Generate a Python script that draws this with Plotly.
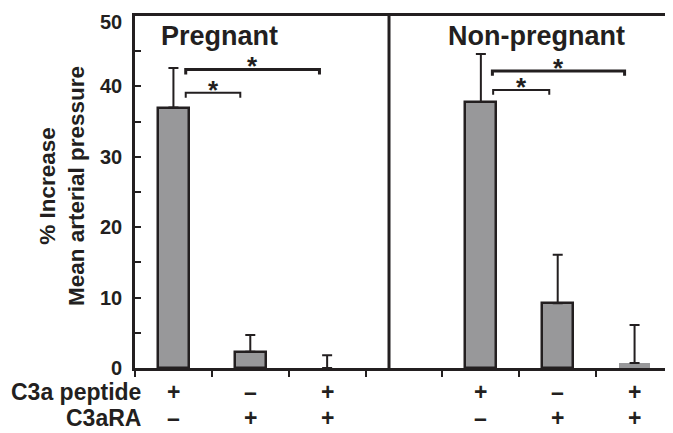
import plotly.graph_objects as go

# ---- data ----
categories = [0, 1, 2, 4, 5, 6]          # category slots (slot 3 is the gap)
values = [37.0, 2.3, 0.0, 37.8, 9.2, 0.7]
errors = [5.6, 2.4, 1.8, 6.8, 6.9, 5.4]
peptide_labels = ["+", "–", "+", "+", "–", "+"]
c3ara_labels = ["–", "+", "+", "–", "+", "+"]
group_titles = ["Pregnant", "Non-pregnant"]
y_ticks = [0, 10, 20, 30, 40, 50]
row_names = ["C3a peptide", "C3aRA"]
# significance brackets: (x_start, x_end, y)
brackets = [(0.16, 1.9, 42.4), (0.16, 0.87, 39.1), (4.15, 5.87, 42.2), (4.16, 4.89, 39.5)]

# ---- style ----
dark = "#231f20"
fill = "#98989a"
font_family = "Arial, Liberation Sans, sans-serif"
divider_x = 2.805
# page body has an 8px default margin; size the figure so the plot lands where it should
PAGE_OFF = 8
W, H = 673 - PAGE_OFF, 433 - PAGE_OFF
PL, PT, PR, PB = 135, 16, 673, 368   # plot area in window pixels
Y_MAX = 50


def px_to_paper(X, Y):
    return (X - PL) / (PR - PL), (PB - Y) / (PB - PT)


fig = go.Figure()
fig.add_trace(go.Bar(
    x=categories, y=values, width=0.4,
    marker=dict(color=fill, line=dict(color=dark, width=[2.5, 2.5, 0, 2.5, 2.5, 0])),
    error_y=dict(type="data", array=errors, arrayminus=[0] * len(errors), symmetric=False,
                 color=dark, thickness=2, width=5),
    showlegend=False,
))

# divider
fig.add_shape(type="line", xref="x", yref="paper", x0=divider_x, x1=divider_x, y0=0, y1=1,
              line=dict(color=dark, width=3))

# brackets
for i, (x0, x1, y) in enumerate(brackets):
    w = 3 if i % 2 == 0 else 2
    fig.add_shape(type="path", xref="x", yref="y",
                  path=f"M {x0},{y-0.7} L {x0},{y} L {x1},{y} L {x1},{y-0.7}",
                  line=dict(color=dark, width=w))
    fig.add_annotation(x=(x0 + x1) / 2, y=y + 0.45, text="<b>*</b>", showarrow=False,
                       yanchor="middle", font=dict(size=26, color=dark, family=font_family))

# group titles
for x, t in zip([0.6, 4.73], group_titles):
    fig.add_annotation(x=x, y=47.1, text=f"<b>{t}</b>", showarrow=False,
                       font=dict(size=27, color=dark, family=font_family))

# y tick labels (as text next to the axis; the top one kept inside the page)
for v in y_ticks:
    Y = PB - v / Y_MAX * (PB - PT)
    xp, yp = px_to_paper(124, max(Y, 22))
    fig.add_annotation(xref="paper", yref="paper", x=xp, y=yp, text=f"<b>{v}</b>",
                       showarrow=False, xanchor="right", yanchor="middle",
                       font=dict(size=20, color=dark, family=font_family))

# row labels
for Y, name, labs in [(392, row_names[0], peptide_labels), (418, row_names[1], c3ara_labels)]:
    xp, yp = px_to_paper(143, Y)
    fig.add_annotation(xref="paper", yref="paper", x=xp, y=yp, text=f"<b>{name}</b>",
                       showarrow=False, xanchor="right", yanchor="middle",
                       font=dict(size=23, color=dark, family=font_family))
    for c, l in zip(categories, labs):
        fig.add_annotation(xref="x", yref="paper", x=c, y=yp, text=f"<b>{l}</b>",
                           showarrow=False, xanchor="center", yanchor="middle",
                           font=dict(size=23, color=dark, family=font_family))

# y title
xp, yp = px_to_paper(62, 186)
fig.add_annotation(xref="paper", yref="paper", x=xp, y=yp, textangle=-90,
                   xanchor="center", yanchor="middle",
                   text="<b>% Increase<br>Mean arterial pressure</b>", showarrow=False,
                   font=dict(size=22.5, color=dark, family=font_family))

fig.update_layout(
    width=W, height=H,
    margin=dict(l=PL - PAGE_OFF, r=0, t=PT - PAGE_OFF, b=H - (PB - PAGE_OFF), autoexpand=False),
    plot_bgcolor="white", paper_bgcolor="white",
    bargap=0,
    xaxis=dict(range=[-0.5, 6.5], showgrid=False, zeroline=False, showline=True, linecolor=dark,
               linewidth=2.5, mirror=True, ticks="outside", ticklen=6, tickwidth=2, tickcolor=dark,
               tickvals=[-0.5, 0.5, 1.5, 2.5, 3.5, 4.5, 5.5], showticklabels=False),
    yaxis=dict(range=[0, Y_MAX], showgrid=False, zeroline=False, showline=True, linecolor=dark,
               linewidth=2.5, ticks="inside", ticklen=6, tickwidth=2, tickcolor=dark,
               tickvals=y_ticks, showticklabels=False,
               minor=dict(tickvals=[5, 15, 25, 35, 45], ticks="inside", ticklen=6, tickwidth=2,
                          tickcolor=dark)),
)

fig.write_html("out.html")
